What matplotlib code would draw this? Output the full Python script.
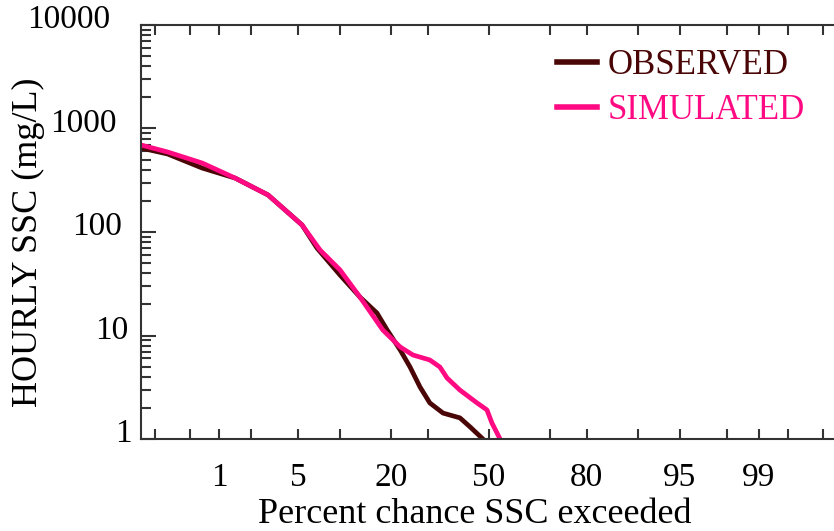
import numpy as np
import matplotlib
matplotlib.use("Agg")
import matplotlib.pyplot as plt
from matplotlib.ticker import FixedLocator, NullFormatter, LogLocator
from statistics import NormalDist

# ---- data (percent chance exceeded, SSC mg/L) ----
obs_p = [0.135, 0.28, 0.67, 1.43, 2.84, 5.35, 6.9, 9.95, 13.3, 16.7, 19.0, 22.2, 24.8, 27.6, 30.5,
         34.6, 40.1, 43.5, 47.9]
obs_ssc = [648, 567, 415, 332, 228, 117, 70, 38.4, 23.5, 16.5, 11.3, 7.24, 4.96, 3.18, 2.23,
           1.78, 1.60, 1.31, 1.0]

sim_p = [0.135, 0.28, 0.67, 1.43, 2.84, 5.35, 7.26, 9.95, 13.3, 18.0, 22.2, 25.6, 30.5, 33.6,
         35.9, 40.1, 45.9, 49.3, 51.0, 53.8]
sim_ssc = [693, 593, 464, 332, 228, 117, 67, 43, 23.5, 11.3, 7.74, 6.48, 5.80, 4.96,
           3.88, 2.97, 2.23, 1.91, 1.43, 1.0]

x_major = [0.2, 0.5, 1, 2, 5, 10, 20, 30, 50, 70, 80, 90, 95, 98, 99, 99.5, 99.8]
x_labeled = [1, 5, 20, 50, 80, 95, 99]
y_major = [1, 10, 100, 1000, 10000]
y_labels = ["1", "10", "100", "1000", "10000"]

obs_color = "#4a0606"
sim_color = "#ff0a82"

_nd = NormalDist()
_ppf = np.vectorize(_nd.inv_cdf, otypes=[float])
_cdf = np.vectorize(_nd.cdf, otypes=[float])


def _fwd(p):
    q = np.clip(np.asarray(p, dtype=float) / 100.0, 1e-12, 1 - 1e-12)
    return _ppf(q)


def _inv(z):
    return _cdf(np.asarray(z, dtype=float)) * 100.0


plt.rcParams["font.family"] = ["Liberation Serif", "DejaVu Serif"]

W, H = 834, 531
fig = plt.figure(figsize=(W / 100, H / 100), dpi=100)
ax_left, ax_right, ax_top, ax_bot = 141, 837, 25, 439
ax_w, ax_h = ax_right - ax_left, ax_bot - ax_top
ax = fig.add_axes([ax_left / W, 1 - ax_bot / H, ax_w / W, ax_h / H])

ax.set_xscale("function", functions=(_fwd, _inv))
ax.set_yscale("log")

ax.plot(obs_p, obs_ssc, color=obs_color, lw=3.4, label="OBSERVED", solid_joinstyle="round")
ax.plot(sim_p, sim_ssc, color=sim_color, lw=3.4, label="SIMULATED", solid_joinstyle="round")

ax.set_xlim(float(_inv(-3.0)), float(_inv(3.0)))
ax.set_ylim(1, 10000)

# x ticks
ax.xaxis.set_major_locator(FixedLocator(x_major))
ax.xaxis.set_major_formatter(plt.FuncFormatter(
    lambda v, pos: (f"{v:g}" if any(abs(v - t) < 1e-9 for t in x_labeled) else "")))
ax.xaxis.set_minor_locator(FixedLocator([]))
ax.tick_params(axis="x", which="major", direction="in", length=7, width=1.5, top=True, bottom=True,
               labelsize=24, pad=17, color="#333333")

# y ticks
ax.yaxis.set_major_locator(FixedLocator(y_major))
ax.yaxis.set_minor_locator(LogLocator(base=10, subs=np.arange(2, 10)))
ax.yaxis.set_major_formatter(NullFormatter())
ax.yaxis.set_minor_formatter(NullFormatter())
ax.tick_params(axis="y", which="major", direction="in", length=11, width=1.5, left=True, right=False, color="#333333")
ax.tick_params(axis="y", which="minor", direction="in", length=7, width=1.5, left=True, right=False, color="#333333")

# staggered y tick labels as in the reference
offsets_px = [9, 13, 19, 24, 31]
for val, lab, off in zip(y_major, y_labels, offsets_px):
    ax.annotate(lab, xy=(0, val), xycoords=("axes fraction", "data"),
                xytext=(-off, 5), textcoords="offset pixels",
                ha="right", va="center", fontsize=24)

for s in ["left", "bottom", "top"]:
    ax.spines[s].set_linewidth(1.5)
    ax.spines[s].set_color("#333333")
ax.spines["right"].set_visible(False)

ax.set_xlabel("Percent chance SSC exceeded", fontsize=26)
ax.xaxis.set_label_coords((475 - ax_left) / ax_w, (ax_bot - 498) / ax_h)
ax.set_ylabel("HOURLY SSC (mg/L)", fontsize=26)
ax.yaxis.set_label_coords((45 - ax_left) / ax_w, (ax_bot - 242) / ax_h)

leg = ax.legend(loc="upper left",
                bbox_to_anchor=((557 - ax_left) / ax_w, (ax_bot - 49) / ax_h),
                frameon=False, fontsize=25, handlelength=1.15, handletextpad=0.3,
                labelspacing=0.36, borderpad=0, borderaxespad=0, labelcolor="linecolor")
for line in leg.get_lines():
    line.set_linewidth(4)

fig.savefig("out.png", dpi=100)
